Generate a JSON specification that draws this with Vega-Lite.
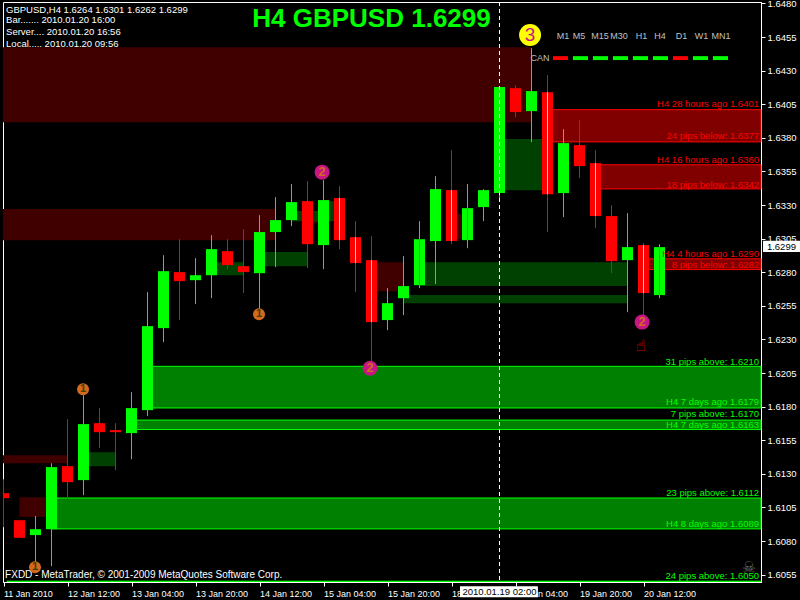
{"$schema":"https://vega.github.io/schema/vega-lite/v6.json","width":758,"height":580,"autosize":"none","padding":{"left":3,"top":2,"right":39,"bottom":18},"background":"#000","config":{"view":{"stroke":"#fff","strokeWidth":1},"font":"Liberation Sans","scale":{"continuousPadding":0}},"resolve":{"scale":{"color":"independent","fill":"independent","stroke":"independent"}},"datasets":{"candles":[
{"bar":0,"open":1.61156,"high":1.6126,"low":1.60903,"close":1.61119,"dir":"down"},
{"bar":1,"open":1.60955,"high":1.60955,"low":1.60824,"close":1.60824,"dir":"down"},
{"bar":2,"open":1.60844,"high":1.60985,"low":1.60598,"close":1.60888,"dir":"up"},
{"bar":3,"open":1.60888,"high":1.61379,"low":1.60613,"close":1.6135,"dir":"up"},
{"bar":4,"open":1.61357,"high":1.61707,"low":1.61089,"close":1.61238,"dir":"down"},
{"bar":5,"open":1.61253,"high":1.61885,"low":1.61141,"close":1.6167,"dir":"up"},
{"bar":6,"open":1.61677,"high":1.61789,"low":1.61491,"close":1.6161,"dir":"down"},
{"bar":7,"open":1.61625,"high":1.61677,"low":1.61327,"close":1.6161,"dir":"down"},
{"bar":8,"open":1.61603,"high":1.61908,"low":1.61409,"close":1.61789,"dir":"up"},
{"bar":9,"open":1.61774,"high":1.62652,"low":1.61729,"close":1.62399,"dir":"up"},
{"bar":10,"open":1.62384,"high":1.62927,"low":1.6228,"close":1.62808,"dir":"up"},
{"bar":11,"open":1.62801,"high":1.63046,"low":1.62444,"close":1.62734,"dir":"down"},
{"bar":12,"open":1.62741,"high":1.62905,"low":1.62563,"close":1.62778,"dir":"up"},
{"bar":13,"open":1.62778,"high":1.63076,"low":1.62607,"close":1.62972,"dir":"up"},
{"bar":14,"open":1.62957,"high":1.63046,"low":1.62823,"close":1.62853,"dir":"down"},
{"bar":15,"open":1.62845,"high":1.63121,"low":1.62645,"close":1.62801,"dir":"down"},
{"bar":16,"open":1.62793,"high":1.63225,"low":1.62481,"close":1.63099,"dir":"up"},
{"bar":17,"open":1.63099,"high":1.63359,"low":1.62838,"close":1.63188,"dir":"up"},
{"bar":18,"open":1.63188,"high":1.63456,"low":1.63143,"close":1.63322,"dir":"up"},
{"bar":19,"open":1.63329,"high":1.63478,"low":1.62831,"close":1.63009,"dir":"down"},
{"bar":20,"open":1.63002,"high":1.63485,"low":1.62823,"close":1.63337,"dir":"up"},
{"bar":21,"open":1.63352,"high":1.63441,"low":1.62972,"close":1.63039,"dir":"down","inner":"pale"},
{"bar":22,"open":1.63061,"high":1.6318,"low":1.62652,"close":1.62868,"dir":"down","inner":"pale"},
{"bar":23,"open":1.6289,"high":1.63069,"low":1.62124,"close":1.62429,"dir":"down","inner":"pale"},
{"bar":24,"open":1.62444,"high":1.62682,"low":1.62369,"close":1.6257,"dir":"up"},
{"bar":25,"open":1.62607,"high":1.6292,"low":1.62481,"close":1.62697,"dir":"up"},
{"bar":26,"open":1.62704,"high":1.6318,"low":1.62682,"close":1.63046,"dir":"up","inner":"mid"},
{"bar":27,"open":1.63032,"high":1.63515,"low":1.62712,"close":1.63419,"dir":"up"},
{"bar":28,"open":1.63411,"high":1.63709,"low":1.63009,"close":1.63032,"dir":"down","inner":"pale"},
{"bar":29,"open":1.63039,"high":1.63456,"low":1.62979,"close":1.63277,"dir":"up","inner":"mid"},
{"bar":30,"open":1.63285,"high":1.63418,"low":1.6318,"close":1.63411,"dir":"up"},
{"bar":31,"open":1.63389,"high":1.64178,"low":1.63337,"close":1.64178,"dir":"up"},
{"bar":32,"open":1.6417,"high":1.64192,"low":1.63954,"close":1.63992,"dir":"down"},
{"bar":33,"open":1.63999,"high":1.64468,"low":1.63768,"close":1.64148,"dir":"up"},
{"bar":34,"open":1.6414,"high":1.64267,"low":1.63099,"close":1.63381,"dir":"down","inner":"pale"},
{"bar":35,"open":1.63389,"high":1.63865,"low":1.6321,"close":1.63761,"dir":"up"},
{"bar":36,"open":1.63746,"high":1.63932,"low":1.635,"close":1.6359,"dir":"down"},
{"bar":37,"open":1.63612,"high":1.63709,"low":1.63128,"close":1.63218,"dir":"down","inner":"pale"},
{"bar":38,"open":1.63218,"high":1.63299,"low":1.62793,"close":1.62883,"dir":"down"},
{"bar":39,"open":1.6289,"high":1.6324,"low":1.62503,"close":1.62987,"dir":"up"},
{"bar":40,"open":1.63002,"high":1.63017,"low":1.62481,"close":1.62645,"dir":"down","inner":"pale"},
{"bar":41,"open":1.6263,"high":1.63009,"low":1.62607,"close":1.62987,"dir":"up","inner":"mid"}
],"zones":[
{"bar":-0.03125,"bar2":32.97,"price":1.64475,"price2":1.63917,"kind":"deepRed"},
{"bar":-0.03125,"bar2":17,"price":1.6327,"price2":1.63039,"kind":"deepRed"},
{"bar":19,"bar2":20,"price":1.63195,"price2":1.63165,"kind":"deepRed"},
{"bar":23,"bar2":25,"price":1.62875,"price2":1.62659,"kind":"deepRed"},
{"bar":28,"bar2":29,"price":1.63232,"price2":1.63046,"kind":"deepRed"},
{"bar":-0.03125,"bar2":4,"price":1.61439,"price2":1.61379,"kind":"deepRed"},
{"bar":1,"bar2":3,"price":1.61126,"price2":1.60978,"kind":"deepRed"},
{"bar":31,"bar2":34,"price":1.63791,"price2":1.63411,"kind":"deepGreen"},
{"bar":26,"bar2":39,"price":1.62875,"price2":1.62697,"kind":"deepGreen"},
{"bar":25,"bar2":39,"price":1.6263,"price2":1.6257,"kind":"deepGreen"},
{"bar":16,"bar2":19,"price":1.6295,"price2":1.62845,"kind":"deepGreen"},
{"bar":13,"bar2":15,"price":1.62875,"price2":1.62778,"kind":"deepGreen"},
{"bar":5,"bar2":7,"price":1.61461,"price2":1.61357,"kind":"deepGreen"},
{"bar":18,"bar2":20,"price":1.63255,"price2":1.6318,"kind":"deepGreen"},
{"bar":20,"bar2":21,"price":1.63329,"price2":1.6318,"kind":"deepGreen"},
{"bar":34,"bar2":47.34375,"price":1.6401,"price2":1.6377,"kind":"red"},
{"bar":37,"bar2":47.34375,"price":1.636,"price2":1.6342,"kind":"red"},
{"bar":40,"bar2":47.34375,"price":1.629,"price2":1.6282,"kind":"red"},
{"bar":9,"bar2":47.34375,"price":1.621,"price2":1.6179,"kind":"green"},
{"bar":8,"bar2":47.34375,"price":1.617,"price2":1.6163,"kind":"green"},
{"bar":3,"bar2":47.34375,"price":1.6112,"price2":1.6089,"kind":"green"},
{"bar":0.2,"bar2":47.34375,"price":1.605,"price2":1.605,"kind":"green"}
],"levels":[
{"bar":47.22,"price":1.64051,"label":"H4 28 hours ago 1.6401","kind":"red"},
{"bar":47.22,"price":1.63813,"label":"24 pips below: 1.6377","kind":"red"},
{"bar":47.22,"price":1.63634,"label":"H4 16 hours ago 1.6360","kind":"red"},
{"bar":47.22,"price":1.63448,"label":"18 pips below: 1.6342","kind":"red"},
{"bar":47.22,"price":1.62935,"label":"H4 4 hours ago 1.6290","kind":"red"},
{"bar":47.22,"price":1.62853,"label":"8 pips below: 1.6282","kind":"red"},
{"bar":47.22,"price":1.62131,"label":"31 pips above: 1.6210","kind":"green"},
{"bar":47.22,"price":1.61833,"label":"H4 7 days ago 1.6179","kind":"green"},
{"bar":47.22,"price":1.61744,"label":"7 pips above: 1.6170","kind":"green"},
{"bar":47.22,"price":1.61662,"label":"H4 7 days ago 1.6163","kind":"green"},
{"bar":47.22,"price":1.61156,"label":"23 pips above: 1.6112","kind":"green"},
{"bar":47.22,"price":1.60925,"label":"H4 8 days ago 1.6089","kind":"green"},
{"bar":47.22,"price":1.60538,"label":"24 pips above: 1.6050","kind":"green"}
],"notes":[
{"bar":0.16,"price":1.64751,"label":"GBPUSD,H4  1.6264 1.6301 1.6262 1.6299"},
{"bar":0.16,"price":1.64676,"label":"Bar....... 2010.01.20 16:00"},
{"bar":0.16,"price":1.64587,"label":"Server.... 2010.01.20 16:56"},
{"bar":0.16,"price":1.64498,"label":"Local..... 2010.01.20 09:56"}
],"credit":[
{"bar":0.1,"price":1.60546,"label":"FXDD - MetaTrader, © 2001-2009 MetaQuotes Software Corp."}
],"frames":[
{"bar":34.97,"price":1.64557,"label":"M1"},{"bar":35.97,"price":1.64557,"label":"M5"},{"bar":37.28,"price":1.64557,"label":"M15"},{"bar":38.47,"price":1.64557,"label":"M30"},{"bar":39.88,"price":1.64557,"label":"H1"},{"bar":41.03,"price":1.64557,"label":"H4"},{"bar":42.38,"price":1.64557,"label":"D1"},{"bar":43.63,"price":1.64557,"label":"W1"},{"bar":44.84,"price":1.64557,"label":"MN1"},{"bar":33.53,"price":1.64393,"label":"CAN"}
],"dashes":[
{"bar":34.34,"bar2":35.28,"price":1.64408,"price2":1.64379,"state":"down"},
{"bar":35.59,"bar2":36.53,"price":1.64408,"price2":1.64379,"state":"up"},
{"bar":36.84,"bar2":37.78,"price":1.64408,"price2":1.64379,"state":"up"},
{"bar":38.09,"bar2":39.03,"price":1.64408,"price2":1.64379,"state":"up"},
{"bar":39.34,"bar2":40.28,"price":1.64408,"price2":1.64379,"state":"up"},
{"bar":40.59,"bar2":41.53,"price":1.64408,"price2":1.64379,"state":"up"},
{"bar":41.84,"bar2":42.78,"price":1.64408,"price2":1.64379,"state":"down"},
{"bar":43.09,"bar2":44.03,"price":1.64408,"price2":1.64379,"state":"up"},
{"bar":44.34,"bar2":45.28,"price":1.64408,"price2":1.64379,"state":"up"}
],"waves1":[
{"bar":4.97,"price":1.6193,"label":"1"},
{"bar":15.97,"price":1.62488,"label":"1"},
{"bar":1.97,"price":1.60605,"label":"1"}
],"waves2":[
{"bar":19.91,"price":1.63545,"label":"2"},
{"bar":22.91,"price":1.62086,"label":"2"},
{"bar":39.91,"price":1.62429,"label":"2"}
],"waves3":[
{"bar":32.91,"price":1.64565,"label":"3"}
],"boxes":[
{"bar":47.47,"bar2":49.78,"price":1.63034,"price2":1.6295},
{"bar":28.53,"bar2":33.4,"price":1.60464,"price2":1.60382}
],"boxText":[
{"bar":48.62,"price":1.6299,"label":"1.6299"},
{"bar":31,"price":1.60424,"label":"2010.01.19 02:00"}
],"glyphs":[
{"bar":39.84,"price":1.6225,"label":"☝","kind":"hand"},
{"bar":46.59,"price":1.60598,"label":"☠","kind":"skull"}
],"cursor":[{"bar":31}],"title":[{"bar":23,"price":1.64684,"label":"H4 GBPUSD 1.6299"}]},
"layer":[
{"data":{"name":"zones"},"transform":[{"filter":"datum.kind==='deepRed'||datum.kind==='deepGreen'"}],"mark":{"type":"rect"},"encoding":{
"x":{"field":"bar","type":"quantitative","scale":{"domain":[-0.03125,47.34375],"nice":false,"zero":false},"title":null,"axis":{"values":[0,4,8,12,16,20,24,28,32,36,40],"labelExpr":"['11 Jan 2010','12 Jan 12:00','13 Jan 04:00','13 Jan 20:00','14 Jan 12:00','15 Jan 04:00','15 Jan 20:00','18 Jan 12:00','19 Jan 04:00','19 Jan 20:00','20 Jan 12:00'][datum.value/4]","labelAlign":"left","labelColor":"#fff","labelFontSize":9,"labelPadding":3,"labelFlush":false,"labelOverlap":false,"labelBound":false,"tickColor":"#fff","tickSize":4,"tickCount":30,"domainColor":"#fff","grid":false}},
"x2":{"field":"bar2"},
"y":{"field":"price","type":"quantitative","scale":{"domain":[1.60495,1.64811],"nice":false,"zero":false},"title":null,"axis":{"orient":"right","values":[1.6055,1.608,1.6105,1.613,1.6155,1.618,1.6205,1.623,1.6255,1.628,1.6305,1.633,1.6355,1.638,1.6405,1.643,1.6455,1.648],"tickCount":40,"format":".4f","labelColor":"#fff","labelFontSize":9.5,"labelPadding":2,"labelFlush":false,"labelOverlap":false,"labelBound":false,"tickColor":"#fff","tickSize":4,"domainColor":"#fff","grid":false}},
"y2":{"field":"price2"},
"color":{"field":"kind","type":"nominal","scale":{"domain":["deepRed","deepGreen"],"range":["#400000","#004000"]},"legend":null}}},
{"data":{"name":"zones"},"transform":[{"filter":"datum.kind==='red'||datum.kind==='green'"}],"mark":{"type":"rect","strokeWidth":1},"encoding":{
"x":{"field":"bar","type":"quantitative","scale":{"domain":[-0.03125,47.34375],"nice":false,"zero":false},"title":null},"x2":{"field":"bar2"},
"y":{"field":"price","type":"quantitative","scale":{"domain":[1.60495,1.64811],"nice":false,"zero":false},"title":null},"y2":{"field":"price2"},
"fill":{"field":"kind","type":"nominal","scale":{"domain":["red","green"],"range":["#800000","#008000"]},"legend":null},
"stroke":{"field":"kind","type":"nominal","scale":{"domain":["red","green"],"range":["#ff0000","#00ff00"]},"legend":null}}},
{"data":{"name":"candles"},"mark":{"type":"rule","strokeWidth":1,"clip":true},"encoding":{
"x":{"field":"bar","type":"quantitative","scale":{"domain":[-0.03125,47.34375],"nice":false,"zero":false},"title":null},
"y":{"field":"high","type":"quantitative","scale":{"domain":[1.60495,1.64811],"nice":false,"zero":false},"title":null},"y2":{"field":"low"},
"color":{"field":"dir","type":"nominal","scale":{"domain":["up","down"],"range":["#00ff00","#ff0000"]},"legend":null}}},
{"data":{"name":"candles"},"mark":{"type":"bar","size":11,"clip":true},"encoding":{
"x":{"field":"bar","type":"quantitative","scale":{"domain":[-0.03125,47.34375],"nice":false,"zero":false},"title":null},
"y":{"field":"open","type":"quantitative","scale":{"domain":[1.60495,1.64811],"nice":false,"zero":false},"title":null},"y2":{"field":"close"},
"color":{"field":"dir","type":"nominal","scale":{"domain":["up","down"],"range":["#00ff00","#ff0000"]},"legend":null}}},
{"data":{"name":"candles"},"transform":[{"filter":"datum.inner"}],"mark":{"type":"rule","strokeWidth":1},"encoding":{
"x":{"field":"bar","type":"quantitative","scale":{"domain":[-0.03125,47.34375],"nice":false,"zero":false},"title":null},
"y":{"field":"open","type":"quantitative","scale":{"domain":[1.60495,1.64811],"nice":false,"zero":false},"title":null},"y2":{"field":"close"},
"color":{"field":"inner","type":"nominal","scale":{"domain":["pale","mid"],"range":["#ffc0c0","#00c000"]},"legend":null}}},
{"data":{"name":"cursor"},"mark":{"type":"rule","color":"#fff","strokeWidth":1,"strokeDash":[4,3]},"encoding":{
"x":{"field":"bar","type":"quantitative","scale":{"domain":[-0.03125,47.34375],"nice":false,"zero":false},"title":null}}},
{"data":{"name":"dashes"},"mark":{"type":"rect"},"encoding":{
"x":{"field":"bar","type":"quantitative","scale":{"domain":[-0.03125,47.34375],"nice":false,"zero":false},"title":null},"x2":{"field":"bar2"},
"y":{"field":"price","type":"quantitative","scale":{"domain":[1.60495,1.64811],"nice":false,"zero":false},"title":null},"y2":{"field":"price2"},
"color":{"field":"state","type":"nominal","scale":{"domain":["up","down"],"range":["#00ff00","#ff0000"]},"legend":null}}},
{"data":{"name":"levels"},"mark":{"type":"text","align":"right","baseline":"middle","fontSize":9.5},"encoding":{
"x":{"field":"bar","type":"quantitative","scale":{"domain":[-0.03125,47.34375],"nice":false,"zero":false},"title":null},
"y":{"field":"price","type":"quantitative","scale":{"domain":[1.60495,1.64811],"nice":false,"zero":false},"title":null},
"text":{"field":"label"},
"color":{"field":"kind","type":"nominal","scale":{"domain":["red","green"],"range":["#ff0000","#00ff00"]},"legend":null}}},
{"data":{"name":"notes"},"mark":{"type":"text","align":"left","baseline":"middle","fontSize":9.5,"color":"#fff"},"encoding":{
"x":{"field":"bar","type":"quantitative","scale":{"domain":[-0.03125,47.34375],"nice":false,"zero":false},"title":null},
"y":{"field":"price","type":"quantitative","scale":{"domain":[1.60495,1.64811],"nice":false,"zero":false},"title":null},
"text":{"field":"label"}}},
{"data":{"name":"credit"},"mark":{"type":"text","align":"left","baseline":"middle","fontSize":10,"color":"#fff"},"encoding":{
"x":{"field":"bar","type":"quantitative","scale":{"domain":[-0.03125,47.34375],"nice":false,"zero":false},"title":null},
"y":{"field":"price","type":"quantitative","scale":{"domain":[1.60495,1.64811],"nice":false,"zero":false},"title":null},
"text":{"field":"label"}}},
{"data":{"name":"frames"},"mark":{"type":"text","align":"center","baseline":"middle","fontSize":9,"color":"#c0c0c0"},"encoding":{
"x":{"field":"bar","type":"quantitative","scale":{"domain":[-0.03125,47.34375],"nice":false,"zero":false},"title":null},
"y":{"field":"price","type":"quantitative","scale":{"domain":[1.60495,1.64811],"nice":false,"zero":false},"title":null},
"text":{"field":"label"}}},
{"data":{"name":"title"},"mark":{"type":"text","align":"center","baseline":"middle","fontSize":26,"fontWeight":"bold","color":"#00ff00"},"encoding":{
"x":{"field":"bar","type":"quantitative","scale":{"domain":[-0.03125,47.34375],"nice":false,"zero":false},"title":null},
"y":{"field":"price","type":"quantitative","scale":{"domain":[1.60495,1.64811],"nice":false,"zero":false},"title":null},
"text":{"field":"label"}}},
{"data":{"name":"waves1"},"mark":{"type":"point","filled":true,"opacity":1,"shape":"circle","size":144,"color":"#d2691e"},"encoding":{
"x":{"field":"bar","type":"quantitative","scale":{"domain":[-0.03125,47.34375],"nice":false,"zero":false},"title":null},
"y":{"field":"price","type":"quantitative","scale":{"domain":[1.60495,1.64811],"nice":false,"zero":false},"title":null}}},
{"data":{"name":"waves2"},"mark":{"type":"point","filled":true,"opacity":1,"shape":"circle","size":225,"color":"#c71585"},"encoding":{
"x":{"field":"bar","type":"quantitative","scale":{"domain":[-0.03125,47.34375],"nice":false,"zero":false},"title":null},
"y":{"field":"price","type":"quantitative","scale":{"domain":[1.60495,1.64811],"nice":false,"zero":false},"title":null}}},
{"data":{"name":"waves3"},"mark":{"type":"point","filled":true,"opacity":1,"shape":"circle","size":484,"color":"#ffff00"},"encoding":{
"x":{"field":"bar","type":"quantitative","scale":{"domain":[-0.03125,47.34375],"nice":false,"zero":false},"title":null},
"y":{"field":"price","type":"quantitative","scale":{"domain":[1.60495,1.64811],"nice":false,"zero":false},"title":null}}},
{"data":{"name":"waves1"},"mark":{"type":"text","align":"center","baseline":"middle","fontSize":11,"fontWeight":"bold","color":"#404000"},"encoding":{
"x":{"field":"bar","type":"quantitative","scale":{"domain":[-0.03125,47.34375],"nice":false,"zero":false},"title":null},
"y":{"field":"price","type":"quantitative","scale":{"domain":[1.60495,1.64811],"nice":false,"zero":false},"title":null},
"text":{"field":"label"}}},
{"data":{"name":"waves2"},"mark":{"type":"text","align":"center","baseline":"middle","fontSize":13,"fontWeight":"bold","color":"#d2691e"},"encoding":{
"x":{"field":"bar","type":"quantitative","scale":{"domain":[-0.03125,47.34375],"nice":false,"zero":false},"title":null},
"y":{"field":"price","type":"quantitative","scale":{"domain":[1.60495,1.64811],"nice":false,"zero":false},"title":null},
"text":{"field":"label"}}},
{"data":{"name":"waves3"},"mark":{"type":"text","align":"center","baseline":"middle","fontSize":19,"color":"#c71585"},"encoding":{
"x":{"field":"bar","type":"quantitative","scale":{"domain":[-0.03125,47.34375],"nice":false,"zero":false},"title":null},
"y":{"field":"price","type":"quantitative","scale":{"domain":[1.60495,1.64811],"nice":false,"zero":false},"title":null},
"text":{"field":"label"}}},
{"data":{"name":"glyphs"},"mark":{"type":"text","align":"center","baseline":"middle","font":"DejaVu Sans","fontSize":16,"fontWeight":"bold"},"encoding":{
"x":{"field":"bar","type":"quantitative","scale":{"domain":[-0.03125,47.34375],"nice":false,"zero":false},"title":null},
"y":{"field":"price","type":"quantitative","scale":{"domain":[1.60495,1.64811],"nice":false,"zero":false},"title":null},
"text":{"field":"label"},
"color":{"field":"kind","type":"nominal","scale":{"domain":["hand","skull"],"range":["#ff0000","#666666"]},"legend":null}}},
{"data":{"name":"boxes"},"mark":{"type":"rect","color":"#fff"},"encoding":{
"x":{"field":"bar","type":"quantitative","scale":{"domain":[-0.03125,47.34375],"nice":false,"zero":false},"title":null},"x2":{"field":"bar2"},
"y":{"field":"price","type":"quantitative","scale":{"domain":[1.60495,1.64811],"nice":false,"zero":false},"title":null},"y2":{"field":"price2"}}},
{"data":{"name":"boxText"},"mark":{"type":"text","align":"center","baseline":"middle","fontSize":9.5,"color":"#000"},"encoding":{
"x":{"field":"bar","type":"quantitative","scale":{"domain":[-0.03125,47.34375],"nice":false,"zero":false},"title":null},
"y":{"field":"price","type":"quantitative","scale":{"domain":[1.60495,1.64811],"nice":false,"zero":false},"title":null},
"text":{"field":"label"}}}
]}
